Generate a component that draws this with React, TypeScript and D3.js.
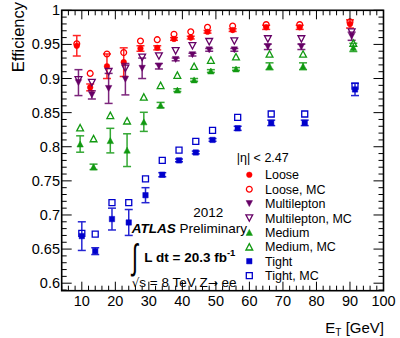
import React from "react";
import * as d3 from "d3";

// ---- data ----
const binCenters = [8.5, 12.5, 17.5, 22.5, 27.5, 32.5, 37.5, 42.5, 47.5, 55, 65, 75, 90];

const looseData = [0.948, 0.887, 0.918, 0.924, 0.944, 0.945, 0.958, 0.960, 0.9685, 0.971, 0.975, 0.975, 0.980];
const looseErr = [0.015, 0.005, 0.018, 0.021, 0.004, 0.003, 0.002, 0.002, 0.002, 0.002, 0.003, 0.003, 0.006];
const looseMC = [0.951, 0.9075, 0.936, 0.938, 0.955, 0.957, 0.965, 0.9685, 0.975, 0.977, 0.979, 0.979, 0.983];

const multiData = [0.894, 0.876, 0.8855, 0.899, 0.915, 0.918, 0.928, 0.935, 0.942, 0.942, 0.9465, 0.9465, 0.962];
const multiErr = [0.019, 0.006, 0.022, 0.023, 0.015, 0.004, 0.002, 0.002, 0.002, 0.002, 0.004, 0.004, 0.006];
const multiMC = [0.898, 0.894, 0.910, 0.915, 0.931, 0.933, 0.9406, 0.948, 0.954, 0.955, 0.958, 0.958, 0.968];

const mediumData = [0.804, 0.7705, 0.809, 0.795, 0.8365, 0.861, 0.883, 0.898, 0.911, 0.914, 0.918, 0.918, 0.9456];
const mediumErr = [0.012, 0.004, 0.018, 0.024, 0.014, 0.004, 0.002, 0.002, 0.002, 0.002, 0.005, 0.005, 0.006];
const mediumMC = [0.828, 0.812, 0.846, 0.838, 0.873, 0.890, 0.905, 0.918, 0.927, 0.932, 0.936, 0.936, 0.952];

const tightData = [0.669, 0.647, 0.694, 0.689, 0.729, 0.759, 0.780, 0.7916, 0.810, 0.827, 0.835, 0.835, 0.884];
const tightErr = [0.021, 0.005, 0.016, 0.019, 0.011, 0.003, 0.002, 0.002, 0.002, 0.003, 0.004, 0.004, 0.009];
const tightMC = [0.673, 0.672, 0.718, 0.718, 0.753, 0.780, 0.795, 0.808, 0.824, 0.843, 0.848, 0.848, 0.889];

const seriesNames = ["Loose", "Multilepton", "Medium", "Tight"];
const seriesShift = [0, 0.5, 1.0, 1.5]; // horizontal shift in GeV for readability
const seriesColors = ["#ff0000", "#660066", "#119911", "#0000cc"];
const seriesShapes = ["circle", "triangleDown", "triangleUp", "square"];

const xTicks = [10, 20, 30, 40, 50, 60, 70, 80, 90, 100];
const yTicks = [0.6, 0.65, 0.7, 0.75, 0.8, 0.85, 0.9, 0.95, 1];
const yTickLabels = ["0.6", "0.65", "0.7", "0.75", "0.8", "0.85", "0.9", "0.95", "1"];

const FONT = "'Liberation Sans', Arial, Helvetica, sans-serif";

function markerPath(shape: string, open: boolean): string {
  if (shape === "circle") {
    const r = open ? 2.9 : 2.8;
    return `M${-r},0A${r},${r} 0 1,0 ${r},0A${r},${r} 0 1,0 ${-r},0Z`;
  }
  if (shape === "triangleUp") {
    const w = open ? 3.4 : 3.2, h = open ? 3.2 : 3.0;
    return `M0,${-h}L${w},${h}L${-w},${h}Z`;
  }
  if (shape === "triangleDown") {
    const w = open ? 3.4 : 3.2, h = open ? 3.2 : 3.0;
    return `M0,${h}L${w},${-h}L${-w},${-h}Z`;
  }
  const s = open ? 3.0 : 2.7;
  return `M${-s},${-s}L${s},${-s}L${s},${s}L${-s},${s}Z`;
}

function Marker({ shape, open, color, cx, cy }: any) {
  return (
    <path
      d={markerPath(shape, open)}
      transform={`translate(${cx},${cy})`}
      fill={open ? "none" : color}
      stroke={color}
      strokeWidth={open ? 1.3 : 0.5}
    />
  );
}

export default function App() {
  const W = 400, H = 338;
  const left = 61.7, right = 383.5, top = 10.3, bottom = 290.7;
  const x = d3.scaleLinear().domain([4, 100]).range([left, right]);
  const y = d3.scaleLinear().domain([0.589, 1.0]).range([bottom, top]);

  const datas = [looseData, multiData, mediumData, tightData];
  const errs = [looseErr, multiErr, mediumErr, tightErr];
  const mcs = [looseMC, multiMC, mediumMC, tightMC];

  const xMinor = d3.range(4, 100.01, 2);
  const yMinor = d3.range(0.59, 1.0001, 0.01);

  const legendX = 249.3, legendText = 265, legendY0 = 174.8, legendDY = 14.4;
  const legendRows: any[] = [];
  seriesNames.forEach((n, i) => {
    legendRows.push({ label: n, open: false, i });
    legendRows.push({ label: n + ", MC", open: true, i });
  });

  return (
    <div style={{ position: "fixed", left: 0, top: 0 }}>
      <svg width={W} height={H} style={{ display: "block", background: "white" }}>
        <rect width={W} height={H} fill="white" />
        {/* data */}
        {seriesNames.map((n, s) => (
          <g key={n}>
            {binCenters.map((b, k) => {
              const cx = x(b + seriesShift[s]);
              const y1 = y(datas[s][k] + errs[s][k]);
              const y2 = y(datas[s][k] - errs[s][k]);
              return (
                <g key={k} stroke={seriesColors[s]} strokeWidth={1.5} opacity={0.85}>
                  <line x1={cx} x2={cx} y1={y1} y2={y2} />
                  <line x1={cx - 4} x2={cx + 4} y1={y1} y2={y1} />
                  <line x1={cx - 4} x2={cx + 4} y1={y2} y2={y2} />
                </g>
              );
            })}
            {binCenters.map((b, k) => (
              <Marker key={"d" + k} shape={seriesShapes[s]} open={false} color={seriesColors[s]}
                cx={x(b + seriesShift[s])} cy={y(datas[s][k])} />
            ))}
            {binCenters.map((b, k) => (
              <Marker key={"m" + k} shape={seriesShapes[s]} open={true} color={seriesColors[s]}
                cx={x(b + seriesShift[s])} cy={y(mcs[s][k])} />
            ))}
          </g>
        ))}

        {/* ticks */}
        <g stroke="black" strokeWidth={1}>
          {xMinor.map((v) => {
            const major = Math.abs(v % 10) < 1e-6;
            const len = major ? 9 : 5;
            return (
              <g key={"x" + v}>
                <line x1={x(v)} x2={x(v)} y1={bottom} y2={bottom - len} />
                <line x1={x(v)} x2={x(v)} y1={top} y2={top + len} />
              </g>
            );
          })}
          {yMinor.map((v) => {
            const major = Math.abs(Math.round(v * 100) % 5) < 1e-6;
            const len = major ? 10 : 5;
            return (
              <g key={"y" + v}>
                <line x1={left} x2={left + len} y1={y(v)} y2={y(v)} />
                <line x1={right} x2={right - len} y1={y(v)} y2={y(v)} />
              </g>
            );
          })}
        </g>
        <rect x={left} y={top} width={right - left} height={bottom - top} fill="none" stroke="black" strokeWidth={1.6} />

        {/* tick labels */}
        <g fontFamily={FONT} fontSize={14.5} fill="black">
          {xTicks.map((v) => (
            <text key={v} x={x(v)} y={306} textAnchor="middle">{v}</text>
          ))}
          {yTicks.map((v, i) => (
            <text key={v} x={60} y={y(v) + 5} textAnchor="end">{yTickLabels[i]}</text>
          ))}
        </g>

        {/* axis titles */}
        <text fontFamily={FONT} fontSize={16.5} transform={`translate(24,2) rotate(-90)`} textAnchor="end">Efficiency</text>
        <text fontFamily={FONT} fontSize={15} x={384} y={333} textAnchor="end">
          E<tspan fontSize={10} dy={3}>T</tspan><tspan dy={-3}> [GeV]</tspan>
        </text>

        {/* legend */}
        <g fontFamily={FONT} fontSize={12.5}>
          <text x={236.7} y={162.3}>|η| &lt; 2.47</text>
          {legendRows.map((r, j) => (
            <g key={j}>
              <Marker shape={seriesShapes[r.i]} open={r.open} color={seriesColors[r.i]}
                cx={legendX} cy={legendY0 + j * legendDY} />
              <text x={legendText} y={legendY0 + j * legendDY + 4.5}>{r.label}</text>
            </g>
          ))}
        </g>

        {/* ATLAS label */}
        <g fontFamily={FONT} fontSize={13.5} fill="black">
          <text x={193.3} y={216.7}>2012</text>
          <text x={131.7} y={233.3}>
            <tspan fontWeight="bold" fontStyle="italic">ATLAS</tspan>
            <tspan> Preliminary</tspan>
          </text>
          <text x={132} y={268} fontSize={22} fontFamily="'DejaVu Sans', sans-serif" transform="translate(0,-160) scale(1,1.6)" style={{ fontWeight: 200 }}>∫</text>
          <text x={144.3} y={261.7} fontWeight="bold">
            L dt = 20.3 fb<tspan fontSize={9.5} dy={-6}>-1</tspan>
          </text>
          <text x={131.7} y={287.3}>
            <tspan fontFamily="'DejaVu Sans', sans-serif" fontSize={12}>√</tspan>s = 8 TeV Z<tspan fontFamily="'DejaVu Sans', sans-serif" fontSize={12}>→</tspan> ee
          </text>
        </g>
      </svg>
    </div>
  );
}
